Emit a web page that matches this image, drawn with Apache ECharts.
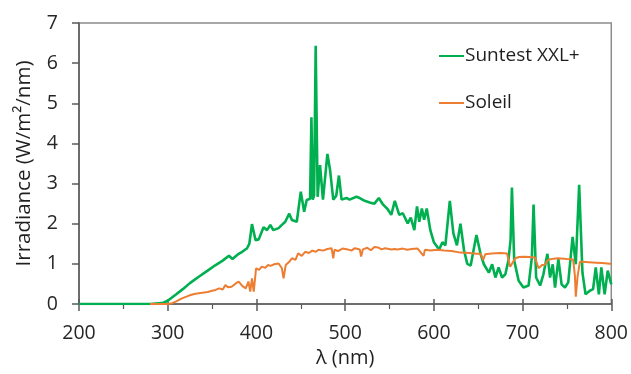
<!DOCTYPE html>
<html>
<head>
<meta charset="utf-8">
<script src="https://cdn.jsdelivr.net/npm/echarts@6/dist/echarts.min.js"></script>
<style>
html,body{margin:0;padding:0;background:#fff;}
#chart{width:631px;height:374px;}
</style>
</head>
<body>
<div id="chart"></div>
<script>
var seriesNames = ['Suntest XXL+', 'Soleil'];
var xTicks = [200, 300, 400, 500, 600, 700, 800];
var yTicks = [0, 1, 2, 3, 4, 5, 6, 7];

var suntest = [
[200,0],[280,0],[290,0.02],[295,0.03],[300,0.08],[310,0.25],[317,0.37],[325,0.52],[335,0.68],[345,0.83],
[354,0.97],[362,1.08],[369,1.2],[373,1.12],[380,1.25],[384,1.30],[389.5,1.39],[392,1.5],[395,1.99],[399,1.59],
[402.6,1.61],[408,1.91],[412,1.84],[415.7,1.97],[419,1.84],[425,1.89],[428.7,1.97],[432.5,2.05],[437,2.25],[440,2.09],
[445.5,2.05],[450,2.80],[453.8,2.30],[456.7,2.59],[460.5,2.62],[462,4.65],[463.5,2.6],[465,2.7],[466.8,6.43],[469,2.67],
[471.7,3.46],[475,2.6],[480,3.74],[483,3.34],[486.6,2.6],[490,2.7],[493,3.2],[496,2.6],[501.5,2.64],[505,2.6],
[512.7,2.67],[516.5,2.64],[522,2.57],[527.7,2.53],[533,2.5],[538,2.64],[542.6,2.48],[548,2.36],[552,2.22],[556,2.57],
[561,2.22],[565,2.26],[570.5,2.01],[574,2.15],[578,1.84],[581,2.43],[583.6,2.05],[586.5,2.38],[589,2.1],[592,2.38],
[596,1.84],[600,1.54],[606,1.36],[609.7,1.54],[613,1.46],[618,2.57],[622,1.76],[626,1.46],[630,2.0],[634,1.34],
[637.7,1.0],[641.5,0.96],[648,1.72],[652.6,1.25],[656.4,0.99],[662,0.78],[665.7,0.99],[669.4,0.66],[673,0.91],[676.9,0.66],
[680.6,0.74],[684,1.08],[686.5,1.6],[688,2.9],[690.6,1.08],[695.6,0.58],[701,0.41],[706.8,0.46],[710.5,1.16],[712.4,2.48],
[715.3,0.66],[719.8,0.46],[723.5,0.74],[728,1.25],[731,0.66],[734,0.99],[736.6,0.41],[740.4,1.12],[744,0.49],[747.8,0.41],
[751.5,0.54],[756.4,1.67],[760,0.99],[763.8,2.97],[767.5,0.78],[771,0.24],[775.8,0.33],[779.5,0.37],[782.5,0.91],[786,0.24],
[788.8,0.91],[792.5,0.24],[796,0.83],[800,0.49]
];

var soleil = [
[280,0],[300,0],[305,0.02],[309,0.06],[316,0.14],[324,0.21],[330,0.25],[335,0.27],[339,0.28],[345,0.3],
[350,0.33],[354,0.35],[358,0.39],[362,0.36],[365,0.47],[368,0.42],[372,0.43],[376,0.5],[380,0.56],[384,0.45],
[388,0.39],[391,0.56],[393,0.31],[395,0.64],[397,0.31],[399.6,0.89],[403,0.85],[406,0.93],[410,0.9],[413,0.97],
[416,0.95],[420,0.99],[425,1.01],[428.7,0.89],[430.6,0.64],[433,0.97],[437,1.05],[440,1.14],[444,1.1],[447,1.26],
[451,1.2],[455,1.3],[459,1.27],[463,1.33],[467,1.3],[470,1.35],[475,1.33],[480,1.37],[484.7,1.39],[486.6,1.14],
[488,1.35],[492,1.32],[497,1.38],[503,1.36],[507,1.33],[511,1.39],[516.5,1.36],[518,1.18],[520,1.36],[525,1.4],
[529,1.34],[533,1.42],[537,1.41],[541,1.36],[545,1.39],[552,1.36],[556,1.37],[559,1.36],[565,1.38],[570,1.35],
[575,1.37],[581.7,1.38],[588.4,1.2],[590,1.35],[596,1.33],[604,1.35],[611.6,1.33],[620,1.32],[630,1.28],[640,1.27],
[648,1.25],[652.6,1.25],[655.6,1.1],[658,1.24],[665,1.26],[675,1.27],[682.5,1.26],[686,0.93],[688,1.0],[691.8,1.14],
[696,1.17],[701,1.18],[708,1.17],[714,1.16],[718,0.89],[722,0.97],[725,0.98],[729,1.1],[735,1.13],[740,1.14],
[750,1.12],[757,1.11],[759,0.7],[760,0.18],[762,0.68],[764.6,1.05],[767,1.05],[775,1.04],[783,1.03],[790,1.02],
[798,1.0],[800,1.0]
];

var FONT = 'Open Sans';
var chart = echarts.init(document.getElementById('chart'), null, {renderer: 'canvas'});
chart.setOption({
  animation: false,
  backgroundColor: '#fff',
  textStyle: {fontFamily: FONT},
  grid: {left: 79, right: 16, top: 23, bottom: 70, show: true, borderColor: '#8c8c8c', borderWidth: 1.5, backgroundColor: 'transparent'},
  legend: {
    orient: 'vertical', left: 439, top: 45, padding: 0, itemGap: 25, itemWidth: 25, itemHeight: 2,
    icon: 'rect',
    textStyle: {fontFamily: FONT, fontSize: 19, color: '#1f1f1f', lineHeight: 22, padding: [0,0,0,-4]},
    data: seriesNames
  },
  xAxis: [{
    type: 'value', min: xTicks[0], max: xTicks[xTicks.length-1], interval: 100,
    name: 'λ (nm)', nameLocation: 'middle', nameGap: 42,
    nameTextStyle: {fontFamily: FONT, fontSize: 20, color: '#1f1f1f'},
    axisLine: {show: true, lineStyle: {color: '#595959', width: 1.5}},
    axisTick: {show: true, inside: false, length: 7, lineStyle: {color: '#595959', width: 1.5}},
    minorTick: {show: true, splitNumber: 2, length: 5, lineStyle: {color: '#595959', width: 1.2}},
    axisLabel: {fontFamily: FONT, fontSize: 19.5, color: '#262626', margin: 19},
    splitLine: {show: false}
  }, {
    type: 'value', min: xTicks[0], max: xTicks[xTicks.length-1], interval: 100, position: 'bottom',
    axisLine: {show: false},
    axisTick: {show: true, inside: true, length: 5, lineStyle: {color: '#595959', width: 1.5}},
    axisLabel: {show: false}, splitLine: {show: false}
  }],
  yAxis: {
    type: 'value', min: yTicks[0], max: yTicks[yTicks.length-1], interval: 1,
    name: 'Irradiance (W/m²/nm)', nameLocation: 'middle', nameGap: 44,
    nameTextStyle: {fontFamily: FONT, fontSize: 20.5, color: '#1f1f1f'},
    axisLine: {show: true, lineStyle: {color: '#595959', width: 1.5}},
    axisTick: {show: true, inside: false, length: 7, lineStyle: {color: '#595959', width: 1.5}},
    axisLabel: {fontFamily: FONT, fontSize: 19.5, color: '#262626', margin: 21},
    splitLine: {show: false}
  },
  series: [{
    name: seriesNames[0], type: 'line', data: suntest, showSymbol: false, symbol: 'none',
    lineStyle: {color: '#00B050', width: 2.6}, itemStyle: {color: '#00B050'}, z: 2
  }, {
    name: seriesNames[1], type: 'line', data: soleil, showSymbol: false, symbol: 'none',
    lineStyle: {color: '#ED7D31', width: 2}, itemStyle: {color: '#ED7D31'}, z: 3
  }]
});
</script>
</body>
</html>
